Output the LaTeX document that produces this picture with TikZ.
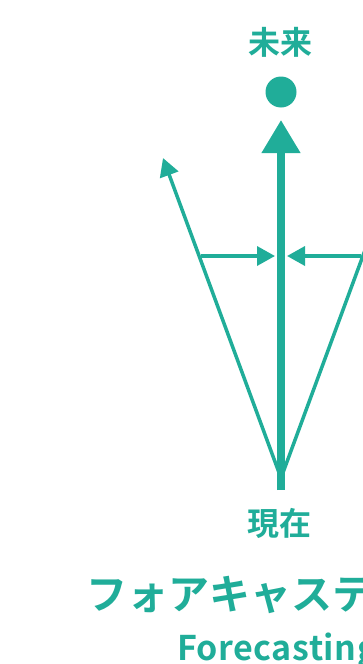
\documentclass[tikz,border=0pt]{standalone}
\usepackage{fontspec}
\newfontfamily\cjk{Noto Sans CJK JP}[BoldFont={Noto Sans CJK JP Bold}]
\usepackage{tikz}
\usetikzlibrary{arrows.meta, positioning, calc}
\definecolor{foreteal}{HTML}{20AD99}

\begin{document}
\begin{tikzpicture}[
    x=1pt, y=-1pt,
    label/.style={font=\cjk\bfseries\fontsize{32}{32}\selectfont, text=foreteal, inner sep=0pt},
    thin/.style={foreteal, line width=3.5pt, -{Triangle[length=18pt, width=19pt]}},
    thick/.style={foreteal, line width=7.5pt, -{Triangle[length=33pt, width=37pt]}}
  ]
    \clip (0,0) rectangle (363,664);
    \useasboundingbox (0,0) rectangle (363,664);
    % points
    \coordinate (now) at (281,478);
    \coordinate (base) at (281,490);
    \coordinate (ltip) at (163,158);
    \coordinate (rtip) at (399,158);
    \coordinate (lmid) at (201,256);
    \coordinate (rmid) at (361,256);
    \node[label] (future) at (280,42) {未来};
    \node[circle, fill=foreteal, minimum size=31pt, inner sep=0pt] (dot) at (281,92) {};
    \node[label] (present) at (279,523) {現在};
    \node[font=\cjk\bfseries\fontsize{41}{41}\selectfont, text=foreteal, anchor=west, inner sep=0pt]
      (title) at (86,594) {フォアキャスティング};
    \node[font=\cjk\bfseries\fontsize{34}{34}\selectfont, text=foreteal, anchor=base west, inner sep=0pt]
      (sub) at (177,660) {\addfontfeatures{LetterSpace=1.5}Forecasting};
    % arrows
    \draw[thin] (now) -- (ltip);
    \draw[thin] (now) -- (rtip);
    \draw[thick] (base) -- (281,120);
    \draw[thin] (lmid) -- (275,256);
    \draw[thin] (rmid) -- (287,256);
\end{tikzpicture}
\end{document}
